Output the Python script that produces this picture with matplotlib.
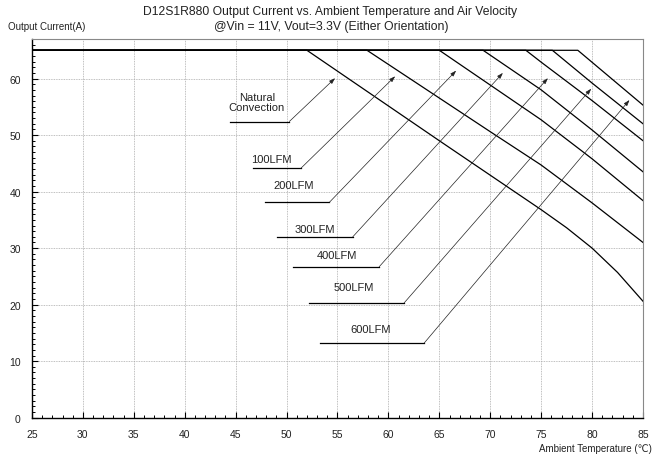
import matplotlib
matplotlib.use("Agg")
import matplotlib.pyplot as plt
from matplotlib.ticker import MultipleLocator

plt.rcParams['font.family'] = ['Liberation Sans', 'DejaVu Sans']

# derating curves: (temperature, current) points
nc_t = [25, 52.0, 65, 75, 77.5, 80, 82.5, 85]
nc_i = [65, 65, 49.0, 36.8, 33.6, 30.0, 25.7, 20.6]
lfm100_t = [25, 57.9, 70, 75, 80, 85]
lfm100_i = [65, 65, 50.6, 44.7, 38.0, 31.0]
lfm200_t = [25, 65.0, 75, 80, 85]
lfm200_i = [65, 65, 52.7, 45.8, 38.4]
lfm300_t = [25, 69.3, 75, 80, 85]
lfm300_i = [65, 65, 58.0, 50.9, 43.5]
lfm400_t = [25, 73.5, 75, 80, 85]
lfm400_i = [65, 65, 62.9, 56.1, 49.0]
lfm500_t = [25, 76.1, 80, 85]
lfm500_i = [65, 65, 59.2, 52.0]
lfm600_t = [25, 78.6, 85]
lfm600_i = [65, 65, 55.3]

curves = [(nc_t, nc_i), (lfm100_t, lfm100_i), (lfm200_t, lfm200_i),
          (lfm300_t, lfm300_i), (lfm400_t, lfm400_i), (lfm500_t, lfm500_i),
          (lfm600_t, lfm600_i)]

labels = ["Natural\nConvection", "100LFM", "200LFM", "300LFM", "400LFM", "500LFM", "600LFM"]
# label text centre, underline start/end, arrow tip
label_xy = [(47.07, 55.8), (48.55, 45.8), (50.67, 41.2), (52.73, 33.4),
            (54.99, 28.7), (56.56, 23.1), (58.27, 15.7)]
under_x0 = [44.45, 46.74, 47.89, 49.04, 50.67, 52.24, 53.29]
under_x1 = [50.27, 51.39, 54.2, 56.5, 59.09, 61.54, 63.51]
under_y = [52.4, 44.1, 38.1, 32.0, 26.7, 20.3, 13.2]
tip_x = [54.76, 60.66, 66.65, 71.24, 75.66, 79.91, 83.67]
tip_y = [60.07, 60.4, 61.4, 61.0, 60.07, 58.2, 56.2]

fig = plt.figure(figsize=(6.54, 4.56), dpi=100)
ax = fig.add_axes([0.0489, 0.0818, 0.9343, 0.8305])

for t, i in curves:
    ax.plot(t, i, color='black', lw=0.9)

for k in range(len(labels)):
    ax.plot([under_x0[k], under_x1[k]], [under_y[k], under_y[k]], color='black', lw=0.9)
    ax.annotate("", xy=(tip_x[k], tip_y[k]), xytext=(under_x1[k], under_y[k]),
                arrowprops=dict(arrowstyle='-|>,head_length=0.35,head_width=0.12',
                                color='#222222', lw=0.5, shrinkA=0, shrinkB=0))
    ax.text(label_xy[k][0], label_xy[k][1], labels[k], ha='center', va='center',
            fontsize=8, color='#222222', linespacing=1.05)

ax.set_xlim(25, 85)
ax.set_ylim(0, 67)
ax.xaxis.set_major_locator(MultipleLocator(5))
ax.xaxis.set_minor_locator(MultipleLocator(1))
ax.yaxis.set_major_locator(MultipleLocator(10))
ax.yaxis.set_minor_locator(MultipleLocator(1))
ax.tick_params(which='both', direction='in', top=False, right=False, labelsize=7.5,
               colors='black', labelcolor='#222222')
ax.tick_params(which='major', length=4, width=0.8, pad=8)
ax.tick_params(which='minor', length=2.5, width=0.7)
ax.grid(True, which='major', color='#aaaaaa', ls=(0, (1, 1)), lw=0.6)

ax.spines['left'].set_color('black')
ax.spines['bottom'].set_color('black')
ax.spines['left'].set_linewidth(1.0)
ax.spines['bottom'].set_linewidth(1.0)
ax.spines['top'].set_color('#888888')
ax.spines['right'].set_color('#888888')
ax.spines['top'].set_linewidth(0.8)
ax.spines['right'].set_linewidth(0.8)

fig.text(0.505, 0.973, "D12S1R880 Output Current vs. Ambient Temperature and Air Velocity",
         ha='center', va='center', fontsize=8.7, color='#222222')
fig.text(0.506, 0.941, "@Vin = 11V, Vout=3.3V (Either Orientation)",
         ha='center', va='center', fontsize=8.8, color='#222222')
fig.text(0.012, 0.941, "Output Current(A)", ha='left', va='center', fontsize=7, color='#222222')
fig.text(0.997, 0.015, "Ambient Temperature (\u2103)", ha='right', va='center',
         fontsize=7, color='#222222')

fig.savefig("out.png", dpi=100)
